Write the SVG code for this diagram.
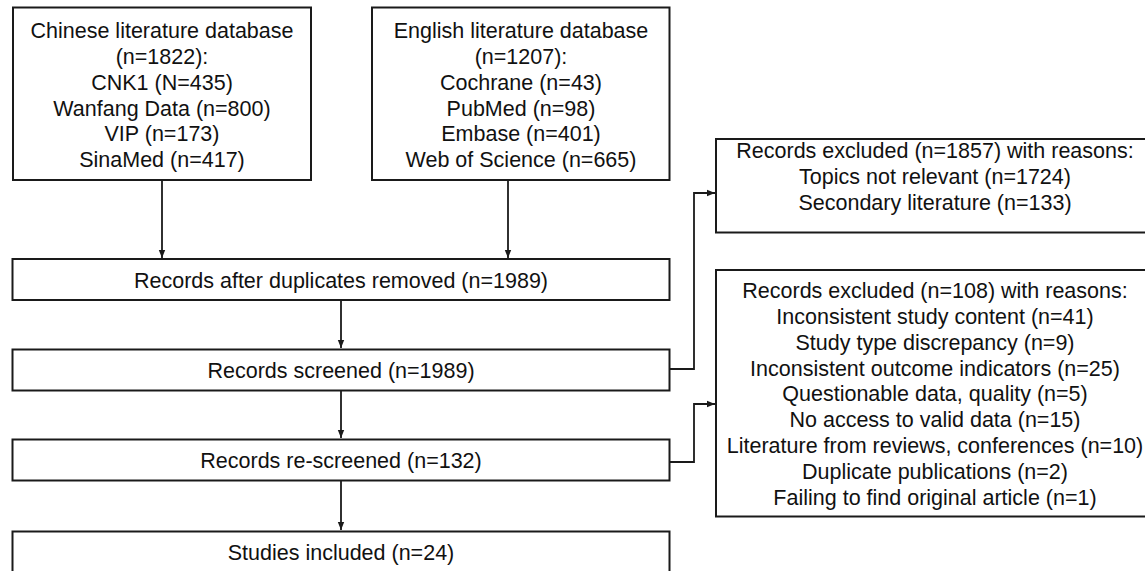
<svg xmlns="http://www.w3.org/2000/svg" width="1145" height="571" viewBox="0 0 1145 571">
<style>
.box{fill:#fff;stroke:#1a1a1a;stroke-width:2}
.t{font-family:"Liberation Sans",Arial,sans-serif;font-size:21.5px;fill:#111;text-anchor:middle}
.ln{fill:none;stroke:#1a1a1a;stroke-width:1.8}
</style>
<defs>
<marker id="ah" markerWidth="8" markerHeight="8" refX="8" refY="4" orient="auto" markerUnits="userSpaceOnUse">
<path d="M0,0.8 L8,4 L0,7.2 Z" fill="#1a1a1a"/>
</marker>
</defs>
<rect width="1145" height="571" fill="#fff"/>
<g id="connectors">
<line class="ln" x1="162" y1="181" x2="162" y2="258" marker-end="url(#ah)"/>
<line class="ln" x1="508" y1="181" x2="508" y2="258" marker-end="url(#ah)"/>
<line class="ln" x1="341" y1="300" x2="341" y2="348" marker-end="url(#ah)"/>
<line class="ln" x1="341" y1="391" x2="341" y2="438" marker-end="url(#ah)"/>
<line class="ln" x1="341" y1="481" x2="341" y2="530" marker-end="url(#ah)"/>
<polyline class="ln" points="670,369 694,369 694,193 715,193" marker-end="url(#ah)"/>
<polyline class="ln" points="670,462 694,462 694,404 715,404" marker-end="url(#ah)"/>
</g>
<g id="chinese">
<rect class="box" x="13" y="7.5" width="298" height="172.5"/>
<text class="t" x="162" y="38">Chinese literature database</text>
<text class="t" x="162" y="64">(n=1822):</text>
<text class="t" x="162" y="90">CNK1 (N=435)</text>
<text class="t" x="162" y="115.5">Wanfang Data (n=800)</text>
<text class="t" x="162" y="141">VIP (n=173)</text>
<text class="t" x="162" y="167">SinaMed (n=417)</text>
</g>
<g id="english">
<rect class="box" x="372" y="7.5" width="297.5" height="172.5"/>
<text class="t" x="521" y="38">English literature database</text>
<text class="t" x="521" y="64">(n=1207):</text>
<text class="t" x="521" y="90">Cochrane (n=43)</text>
<text class="t" x="521" y="115.5">PubMed (n=98)</text>
<text class="t" x="521" y="141">Embase (n=401)</text>
<text class="t" x="521" y="167">Web of Science (n=665)</text>
</g>
<g id="dedup">
<rect class="box" x="12.5" y="259" width="657" height="41"/>
<text class="t" x="341" y="287.5">Records after duplicates removed (n=1989)</text>
</g>
<g id="screened">
<rect class="box" x="12.5" y="349.5" width="657" height="41"/>
<text class="t" x="341" y="378">Records screened (n=1989)</text>
</g>
<g id="rescreened">
<rect class="box" x="12.5" y="439.5" width="657" height="41"/>
<text class="t" x="341" y="468">Records re-screened (n=132)</text>
</g>
<g id="included">
<rect class="box" x="12.5" y="531.5" width="657" height="42"/>
<text class="t" x="341" y="560">Studies included (n=24)</text>
</g>
<g id="excluded1">
<rect class="box" x="716" y="139" width="440" height="93.5"/>
<text class="t" x="935" y="158">Records excluded (n=1857) with reasons:</text>
<text class="t" x="935" y="184">Topics not relevant (n=1724)</text>
<text class="t" x="935" y="210">Secondary literature (n=133)</text>
</g>
<g id="excluded2">
<rect class="box" x="716" y="270" width="440" height="246.5"/>
<text class="t" x="935" y="298">Records excluded (n=108) with reasons:</text>
<text class="t" x="935" y="324">Inconsistent study content (n=41)</text>
<text class="t" x="935" y="350">Study type discrepancy (n=9)</text>
<text class="t" x="935" y="375.5">Inconsistent outcome indicators (n=25)</text>
<text class="t" x="935" y="401">Questionable data, quality (n=5)</text>
<text class="t" x="935" y="427">No access to valid data (n=15)</text>
<text class="t" x="935" y="453">Literature from reviews, conferences (n=10)</text>
<text class="t" x="935" y="479">Duplicate publications (n=2)</text>
<text class="t" x="935" y="504.5">Failing to find original article (n=1)</text>
</g>
</svg>
